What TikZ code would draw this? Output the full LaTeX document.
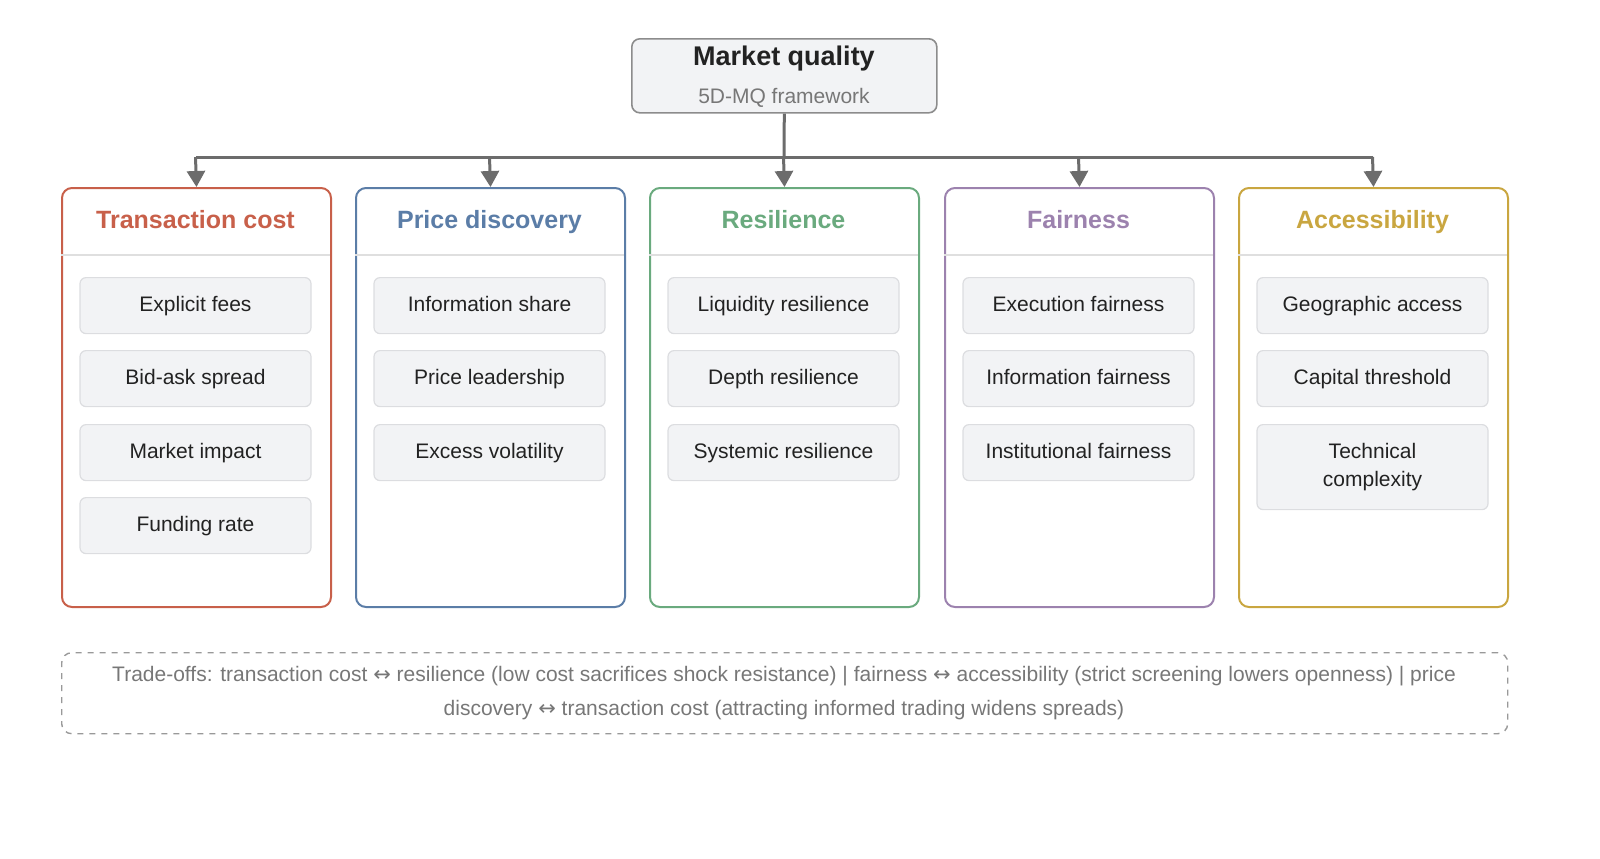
\documentclass[tikz,border=0pt]{standalone}
\usepackage{fontspec}
\setmainfont{Liberation Sans}
\newfontfamily\dejavu{DejaVu Sans}
\usetikzlibrary{arrows.meta}
\definecolor{cTC}{HTML}{C8604A}
\definecolor{cPD}{HTML}{5B7DA7}
\definecolor{cRE}{HTML}{6AAA7E}
\definecolor{cFA}{HTML}{9C82AE}
\definecolor{cAC}{HTML}{C9A640}
\definecolor{itemfill}{HTML}{F2F3F5}
\definecolor{itemdraw}{HTML}{DCDDE0}
\definecolor{txt}{HTML}{222222}
\definecolor{gtxt}{HTML}{777777}
\newcommand{\lr}{{\dejavu\char"2194}}
\begin{document}
\begin{tikzpicture}[x=0.5pt,y=-0.5pt,
  col/.style={draw=#1,line width=1pt,rounded corners=5pt,minimum width=134.5pt,minimum height=209.5pt,anchor=north west,inner sep=0pt},
  head/.style={font=\fontsize{12.5}{14}\selectfont\bfseries,text=#1,text height=9pt,text depth=2.5pt},
  item/.style={draw=itemdraw,fill=itemfill,rounded corners=3pt,line width=0.6pt,minimum width=115.5pt,minimum height=28pt,anchor=north,inner sep=0pt,align=center,font=\fontsize{10.5}{14}\selectfont,text=txt},
  one/.style={text height=7.6pt,text depth=2.2pt},
  conn/.style={draw=gray!85!black,line width=1.5pt},
  arr/.style={conn,-{Triangle[length=8pt,width=9pt]}}]
\node[draw=gray!90,fill=itemfill,rounded corners=4pt,line width=0.8pt,minimum width=152.5pt,minimum height=37pt,anchor=north west,inner sep=0pt] (top) at (631,38) {};
\node[font=\fontsize{13.5}{16}\selectfont\bfseries,text=txt] (tt) at (784,59) {Market quality};
\node[font=\fontsize{10.5}{12}\selectfont,text=gtxt] (ts) at (784,98) {5D-MQ framework};
\coordinate (j) at (784,157);
\draw[conn] (top.south) -- (j);
\foreach \x/\n/\c/\t in {61/a/cTC/Transaction cost,355/b/cPD/Price discovery,649/c/cRE/Resilience,944/d/cFA/Fairness,1238/e/cAC/Accessibility}{
  \node[col=\c] (\n) at (\x,187) {};
  \draw[draw=gray!25,line width=0.8pt] (\x,255) -- (\x+269,255);
  \node[head=\c] (\n h) at (\x+134.5,222) {\t};
  \coordinate (\n t) at (\x+134.5,157);
  \draw[conn] (j) -- (\n t);
  \draw[arr] (\n t) -- (\n.north);
}
\node[item,one] (a1) at (195.5,277) {Explicit fees};
\node[item,one] (a2) at (195.5,350) {Bid-ask spread};
\node[item,one] (a3) at (195.5,424) {Market impact};
\node[item,one] (a4) at (195.5,497) {Funding rate};
\node[item,one] (b1) at (489.5,277) {Information share};
\node[item,one] (b2) at (489.5,350) {Price leadership};
\node[item,one] (b3) at (489.5,424) {Excess volatility};
\node[item,one] (c1) at (783.5,277) {Liquidity resilience};
\node[item,one] (c2) at (783.5,350) {Depth resilience};
\node[item,one] (c3) at (783.5,424) {Systemic resilience};
\node[item,one] (d1) at (1078.5,277) {Execution fairness};
\node[item,one] (d2) at (1078.5,350) {Information fairness};
\node[item,one] (d3) at (1078.5,424) {Institutional fairness};
\node[item,one] (e1) at (1372.5,277) {Geographic access};
\node[item,one] (e2) at (1372.5,350) {Capital threshold};
\node[item,minimum height=42.5pt] (e3) at (1372.5,424) {Technical\\complexity};
\node[draw=gray!80,dashed,rounded corners=5pt,line width=0.7pt,minimum width=723pt,minimum height=40.5pt,anchor=north west,inner sep=0pt] (tb) at (61,652) {};
\node[align=center,font=\fontsize{10.5}{17}\selectfont,text=gtxt] (tbt) at (784,693) {Trade-offs: transaction cost \lr{} resilience (low cost sacrifices shock resistance) | fairness \lr{} accessibility (strict screening lowers openness) | price\\discovery \lr{} transaction cost (attracting informed trading widens spreads)};
\pgfresetboundingbox
\useasboundingbox (0,0) rectangle (1600,858);
\end{tikzpicture}
\end{document}
